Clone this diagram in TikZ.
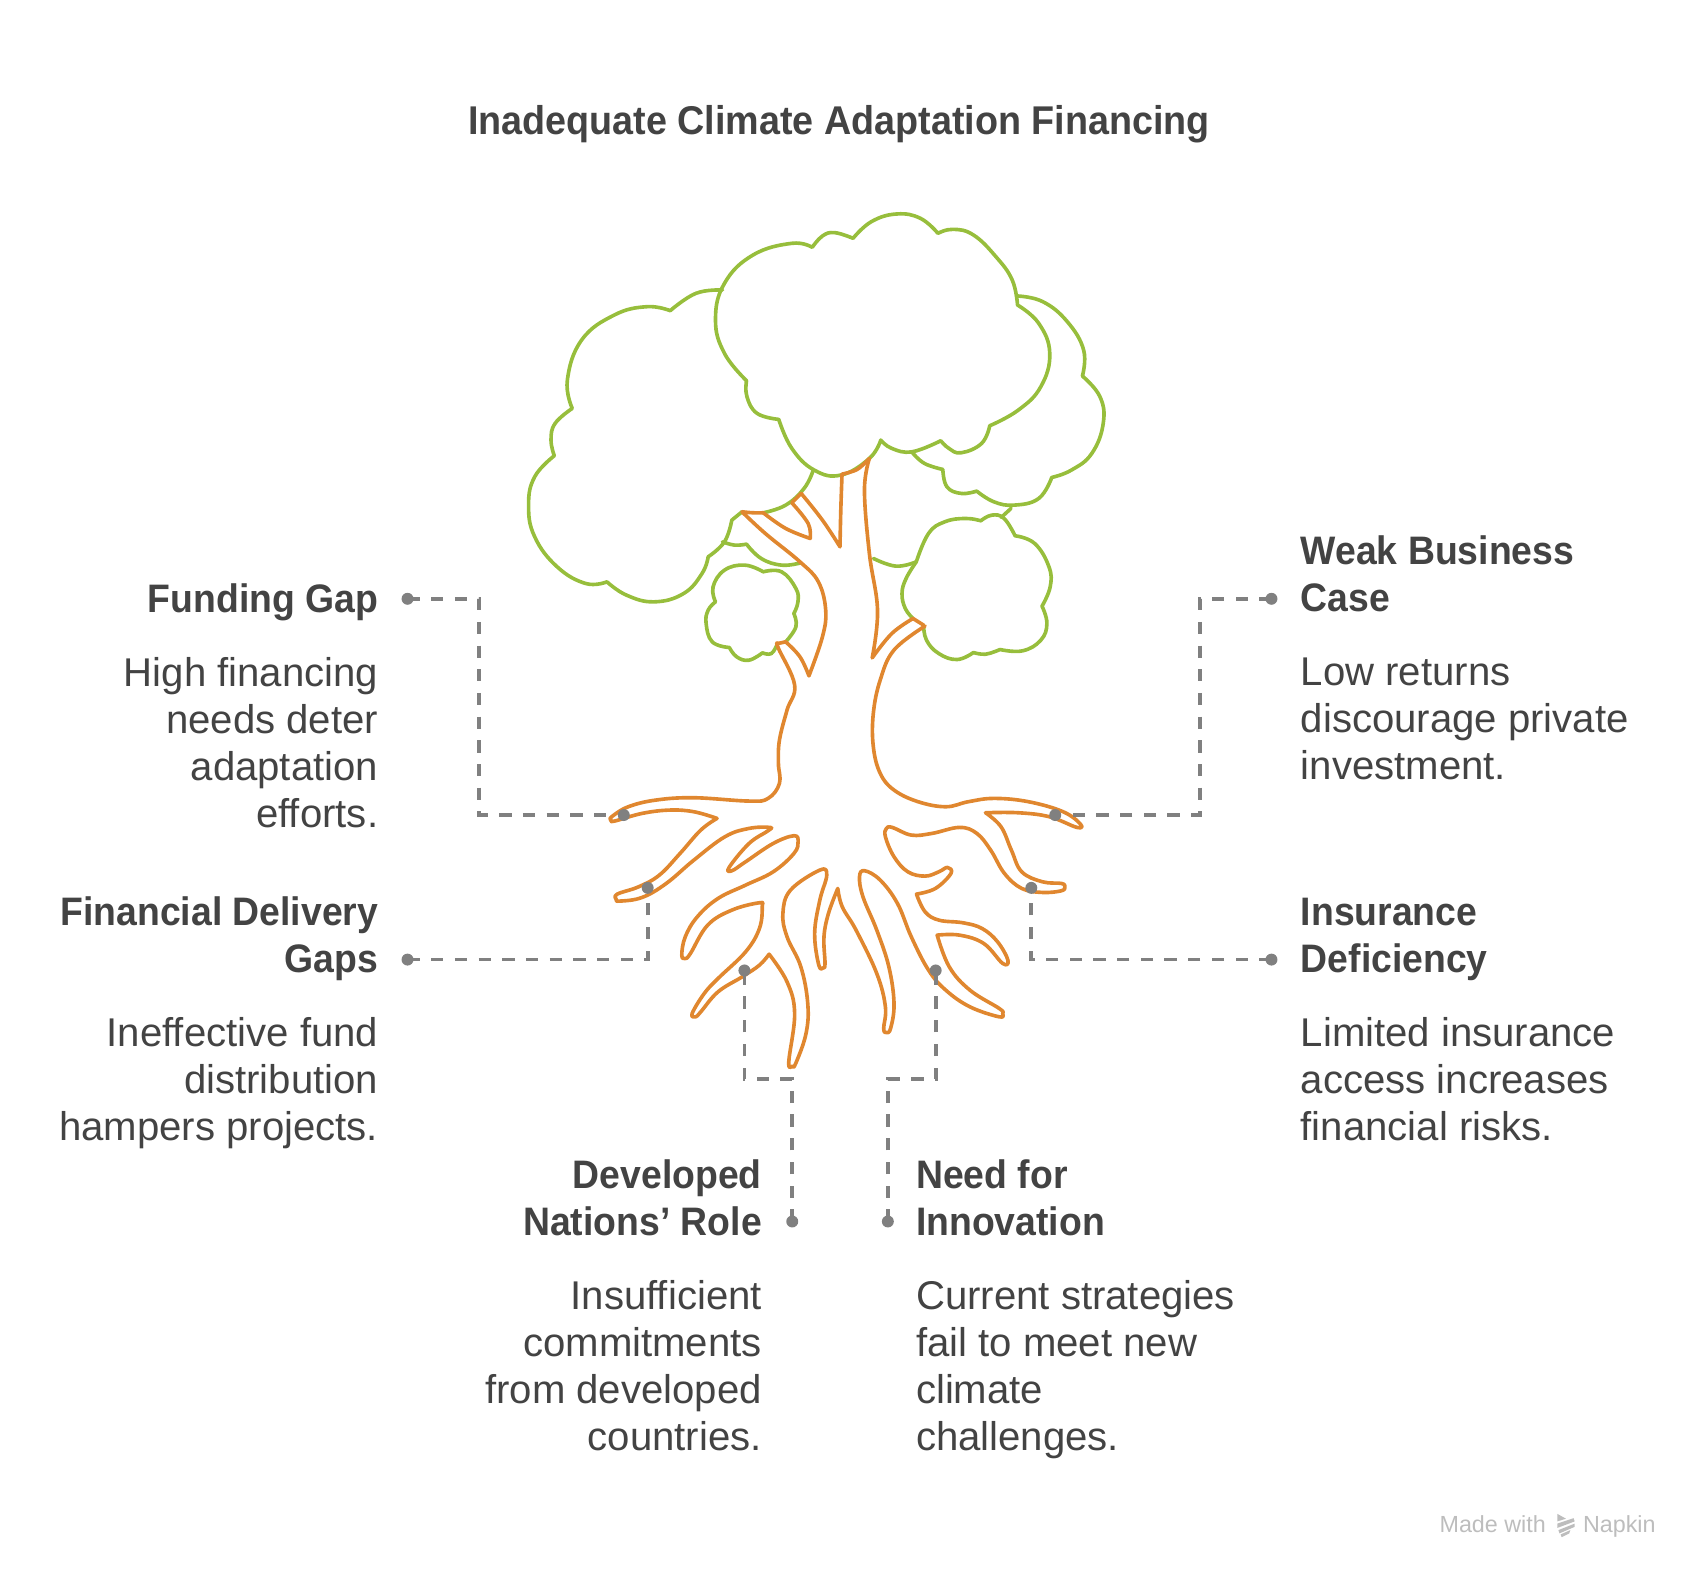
\documentclass[tikz,border=0pt]{standalone}
\usepackage{fontspec}
\usepackage{xcolor}
\setmainfont[BoldFeatures={FakeStretch=0.94}]{Liberation Sans}
\usetikzlibrary{positioning}
\definecolor{crownGreen}{HTML}{97BE3C}
\definecolor{rootOrange}{HTML}{E0872F}
\definecolor{linkGray}{HTML}{808080}
\definecolor{textGray}{HTML}{434343}
\definecolor{markGray}{HTML}{BDBDBD}
\tikzset{
  lobe/.style={smooth,tension=.72},
  rootlobe/.style={smooth,tension=.65},
  crown/.style={draw=crownGreen,line width=.95pt,line cap=round,line join=round},
  root/.style={draw=rootOrange,line width=.95pt,line cap=round,line join=round},
  link/.style={draw=linkGray,line width=1pt,dash pattern=on 3.2pt off 3pt},
  dotnode/.style={circle,fill=linkGray,inner sep=0pt,minimum size=.11cm},
  headLeft/.style={text=textGray,inner sep=0pt,outer sep=0pt,align=right,font=\fontsize{10.4}{12.28}\selectfont\bfseries},
  headRight/.style={text=textGray,inner sep=0pt,outer sep=0pt,align=left,font=\fontsize{10.4}{12.28}\selectfont\bfseries},
  bodyLeft/.style={text=textGray,inner sep=0pt,outer sep=0pt,align=right,font=\fontsize{10.5}{12.28}\selectfont},
  bodyRight/.style={text=textGray,inner sep=0pt,outer sep=0pt,align=left,font=\fontsize{10.5}{12.28}\selectfont},
}
\begin{document}
\begin{tikzpicture}[x=0.01cm,y=-0.01cm]
  \useasboundingbox (0,0) rectangle (1568,1453.9);

  \node[text=textGray,inner sep=0pt,font=\fontsize{10.5}{12.28}\selectfont\bfseries] (Title) at (772,114) {Inadequate Climate Adaptation Financing};

  % crowns
  \begin{scope}[shift={(460.1,174.8)},x=0.003756cm,y=-0.003067cm]
    % back left
    \path[crown] plot[lobe] coordinates {(545,300) (480,310) (417,362)}
      -- plot[lobe] coordinates {(417,362) (360,350) (280,375) (200,450) (165,570) (177,655)}
      -- plot[lobe] coordinates {(177,655) (135,700) (125,750) (133,797)}
      -- plot[lobe] coordinates {(133,797) (85,860) (70,945) (85,1040) (140,1130) (210,1180) (262,1175)}
      -- plot[lobe] coordinates {(262,1175) (310,1215) (378,1235) (450,1210) (495,1150) (510,1100)}
      -- plot[lobe] coordinates {(510,1100) (550,1055) (568,990)}
      -- (593,965);
    \path[crown] plot[lobe] coordinates {(645,968) (700,945) (745,895) (767,842)};
    \path[crown] plot[lobe] coordinates {(545,1055) (575,1065) (604,1062)}
      -- plot[lobe] coordinates {(604,1062) (640,1105) (690,1125) (737,1118)};
    % back right
    \path[crown] plot[lobe] coordinates {(1268,318) (1330,335) (1390,395) (1430,480) (1427,558)}
      -- plot[lobe] coordinates {(1427,558) (1470,620) (1478,700) (1450,790) (1400,840) (1352,862)}
      -- plot[lobe] coordinates {(1352,862) (1320,925) (1260,945) (1210,935) (1168,903)}
      -- plot[lobe] coordinates {(1168,903) (1130,910) (1095,890) (1085,838)}
      -- plot[lobe] coordinates {(1085,838) (1040,820) (1010,787)};
    \path[crown] plot[lobe] coordinates {(1252,955) (1228,982)};
    \path[crown] plot[lobe] coordinates {(915,1105) (970,1128) (1020,1115)};
    % front
    \path[crown] plot[lobe] coordinates {(765,172) (790,138) (820,128) (865,145)}
      -- plot[lobe] coordinates {(865,145) (910,95) (972,72) (1030,85) (1073,130)}
      -- plot[lobe] coordinates {(1073,130) (1110,118) (1160,135) (1215,200) (1255,270) (1268,345)}
      -- plot[lobe] coordinates {(1268,345) (1320,400) (1347,490) (1325,590) (1270,660) (1200,707)}
      -- plot[lobe] coordinates {(1200,707) (1180,760) (1130,788) (1100,775) (1080,752)}
      -- plot[lobe] coordinates {(1080,752) (1010,785) (960,775) (933,750)}
      -- plot[lobe] coordinates {(933,750) (905,805) (835,855) (770,840) (715,775) (683,688)}
      -- plot[lobe] coordinates {(683,688) (630,670) (605,620) (604,572)}
      -- plot[lobe] coordinates {(604,572) (550,490) (528,390) (550,280) (620,195) (715,160) (765,172)};
    % lower right
    \path[crown] plot[lobe] coordinates {(1020,1115) (1050,1030) (1090,995) (1140,985) (1178,992)}
      -- plot[lobe] coordinates {(1178,992) (1205,975) (1235,985) (1262,1037)}
      -- plot[lobe] coordinates {(1262,1037) (1310,1060) (1345,1130) (1348,1190) (1328,1248)}
      -- plot[lobe] coordinates {(1328,1248) (1340,1300) (1325,1350) (1280,1382) (1225,1378)}
      -- plot[lobe] coordinates {(1225,1378) (1190,1392) (1160,1387)}
      -- plot[lobe] coordinates {(1160,1387) (1120,1408) (1075,1390) (1045,1350) (1038,1305)};
    \path[crown] plot[lobe] coordinates {(1012,1285) (993,1255) (985,1210) (995,1165) (1020,1115)};
    % lower left
    \path[crown] plot[lobe] coordinates {(528,1235) (522,1190) (550,1140) (600,1125) (645,1145)}
      -- plot[lobe] coordinates {(645,1145) (690,1145) (725,1195) (730,1235) (720,1270)}
      -- plot[lobe] coordinates {(720,1270) (725,1310) (700,1355)};
    \path[crown] plot[lobe] coordinates {(680,1360) (665,1390) (643,1388)}
      -- plot[lobe] coordinates {(643,1388) (610,1410) (580,1400) (562,1372)}
      -- plot[lobe] coordinates {(562,1372) (520,1355) (505,1300) (510,1260) (528,1235)};
    % trunk top
    \path[root] plot[rootlobe] coordinates {(645,968) (620,968) (593,965)}
      -- plot[rootlobe] coordinates {(593,965) (650,1030) (735,1115) (780,1175) (798,1260) (790,1340) (757,1457)}
      -- plot[rootlobe] coordinates {(757,1457) (735,1400) (700,1355)}
      -- (680,1360);
    \path[root] plot[rootlobe] coordinates {(645,968) (700,1015) (760,1045)}
      -- plot[rootlobe] coordinates {(760,1045) (755,1000) (715,938)}
      -- (738,910);
    \path[root] plot[rootlobe] coordinates {(738,910) (790,990) (833,1070)}
      -- plot[rootlobe] coordinates {(833,1070) (835,960) (838,852)}
      -- plot[rootlobe] coordinates {(838,852) (875,838) (905,805)};
    \path[root] plot[rootlobe] coordinates {(905,805) (893,900) (905,1090) (925,1260) (912,1403)}
      -- plot[rootlobe] coordinates {(912,1403) (960,1330) (1012,1285)}
      -- (1038,1305);
  \end{scope}

  % roots
  \begin{scope}[shift={(533.7,570.5)},x=0.003169cm,y=-0.003067cm]
    \path[root] plot[rootlobe] coordinates {(572,70) (575,85) (622,195) (600,270) (578,360) (575,430) (578,490) (545,535) (490,543) (330,533) (220,540) (140,560) (92,590) (90,600) (100,603) (180,580) (260,570) (330,575) (397,595)}
      -- plot[rootlobe] coordinates {(397,595) (350,630) (290,700) (230,765) (170,800) (108,822) (105,838) (115,843) (180,832) (250,790) (330,720) (420,650) (490,625) (550,622) (545,632) (490,670) (432,742) (440,752) (480,725) (560,670) (620,647) (632,665) (620,700) (560,755) (480,795) (400,835) (340,890) (305,950) (295,1005) (305,1015) (320,1000) (370,915) (440,870) (520,848) (528,860) (520,925) (480,995) (400,1075) (360,1120) (325,1180) (335,1190) (350,1175) (400,1115) (470,1070) (520,1035) (548,1002)}
      -- plot[rootlobe] coordinates {(548,1002) (600,1085) (622,1180) (605,1325) (615,1338) (625,1330) (655,1240) (660,1150) (640,1040) (600,950) (588,880) (610,810) (695,750) (715,765) (695,840) (680,940) (692,1035) (705,1043) (710,1030) (707,950) (720,880) (747,805)}
      -- plot[rootlobe] coordinates {(747,805) (760,860) (800,930) (860,1060) (885,1160) (880,1225) (888,1237) (900,1225) (910,1150) (895,1040) (860,930) (820,830) (810,770) (825,752) (870,780) (920,850) (960,950) (1010,1050) (1060,1110) (1130,1160) (1215,1190) (1225,1180) (1215,1165) (1130,1110) (1070,1040) (1035,945)}
      -- plot[rootlobe] coordinates {(1035,945) (1100,945) (1170,970) (1225,1030) (1240,1020) (1210,965) (1165,925) (1110,908) (1040,900) (1000,875) (975,822)}
      -- plot[rootlobe] coordinates {(975,822) (1030,805) (1075,760) (1065,742) (1040,755) (1000,768) (950,755) (910,710) (885,650) (888,625) (905,622) (960,645) (1020,640) (1100,622) (1150,640) (1190,690) (1230,760) (1280,805) (1340,817) (1395,812) (1405,800) (1395,790) (1340,785) (1280,755) (1250,690) (1220,620) (1175,578)}
      -- plot[rootlobe] coordinates {(1175,578) (1270,578) (1360,590) (1440,622) (1450,612) (1400,575) (1300,545) (1200,535) (1125,545) (1060,560) (980,545) (910,510) (870,460) (850,380) (850,280) (870,180) (910,90) (1000,18)};
  \end{scope}

  % left labels
  \node[headLeft,anchor=north east] (fundingHead) at (348,533.4) {\strut Funding Gap\strut};
  \node[bodyLeft,below left=.248cm and 0pt of fundingHead.south east] (fundingBody) {\strut High financing\\needs deter\\adaptation\\efforts.\strut};
  \node[headLeft,anchor=north east] (deliveryHead) at (348,821.4) {\strut Financial Delivery\\Gaps\strut};
  \node[bodyLeft,below left=.248cm and 0pt of deliveryHead.south east] (deliveryBody) {\strut Ineffective fund\\distribution\\hampers projects.\strut};
  \node[headLeft,anchor=north east] (nationsHead) at (701,1063.4) {\strut Developed\\Nations’ Role\strut};
  \node[bodyLeft,below left=.248cm and 0pt of nationsHead.south east] (nationsBody) {\strut Insufficient\\commitments\\from developed\\countries.\strut};

  % right labels
  \node[headRight,anchor=north west] (businessHead) at (1197,489.4) {\strut Weak Business\\Case\strut};
  \node[bodyRight,below right=.248cm and 0pt of businessHead.south west] (businessBody) {\strut Low returns\\discourage private\\investment.\strut};
  \node[headRight,anchor=north west] (insuranceHead) at (1197,821.4) {\strut Insurance\\Deficiency\strut};
  \node[bodyRight,below right=.248cm and 0pt of insuranceHead.south west] (insuranceBody) {\strut Limited insurance\\access increases\\financial risks.\strut};
  \node[headRight,anchor=north west] (innovationHead) at (843,1063.4) {\strut Need for\\Innovation\strut};
  \node[bodyRight,below right=.248cm and 0pt of innovationHead.south west] (innovationBody) {\strut Current strategies\\fail to meet new\\climate\\challenges.\strut};

  % connector ends
  \node[dotnode] (fundingA) at (375,551) {};
  \node[dotnode] (fundingB) at (574,750) {};
  \node[dotnode] (deliveryA) at (375,883) {};
  \node[dotnode] (deliveryB) at (596,817) {};
  \node[dotnode] (nationsA) at (729,1124) {};
  \node[dotnode] (nationsB) at (685,893) {};
  \node[dotnode] (innovationA) at (817,1124) {};
  \node[dotnode] (innovationB) at (861,893) {};
  \node[dotnode] (businessA) at (1170,551) {};
  \node[dotnode] (businessB) at (971,750) {};
  \node[dotnode] (insuranceA) at (1170,883) {};
  \node[dotnode] (insuranceB) at (949,817) {};
  \coordinate (fundingBend) at (441,551);
  \coordinate (nationsBend) at (729,993);
  \coordinate (innovationBend) at (817,993);
  \coordinate (businessBend) at (1104,551);

  \draw[link] (fundingA.center) -- (fundingBend) |- (fundingB.center);
  \draw[link] (deliveryA.center) -| (deliveryB.center);
  \draw[link] (nationsA.center) -- (nationsBend) -| (nationsB.center);
  \draw[link] (innovationA.center) -- (innovationBend) -| (innovationB.center);
  \draw[link] (businessA.center) -- (businessBend) |- (businessB.center);
  \draw[link] (insuranceA.center) -| (insuranceB.center);

  % watermark
  \node[text=markGray,inner sep=0pt,anchor=base west,font=\fontsize{6.1}{8}\selectfont] (madeWith) at (1324,1410) {Made with};
  \node[text=markGray,inner sep=0pt,anchor=base west,font=\fontsize{6.1}{8}\selectfont] (napkin) at (1456,1410) {Napkin};
  \fill[markGray] (1433,1393) -- (1441,1397.5) -- (1433,1400) -- cycle;
  \fill[markGray] (1433,1402) -- (1448,1397) -- (1449,1400) -- (1433,1406) -- cycle;
  \fill[markGray] (1434,1408) -- (1449,1402) -- (1449,1405) -- (1435,1411) -- cycle;
  \fill[markGray] (1436,1412) -- (1445,1408) -- (1444,1411) -- (1437,1414.5) -- cycle;
\end{tikzpicture}
\end{document}
